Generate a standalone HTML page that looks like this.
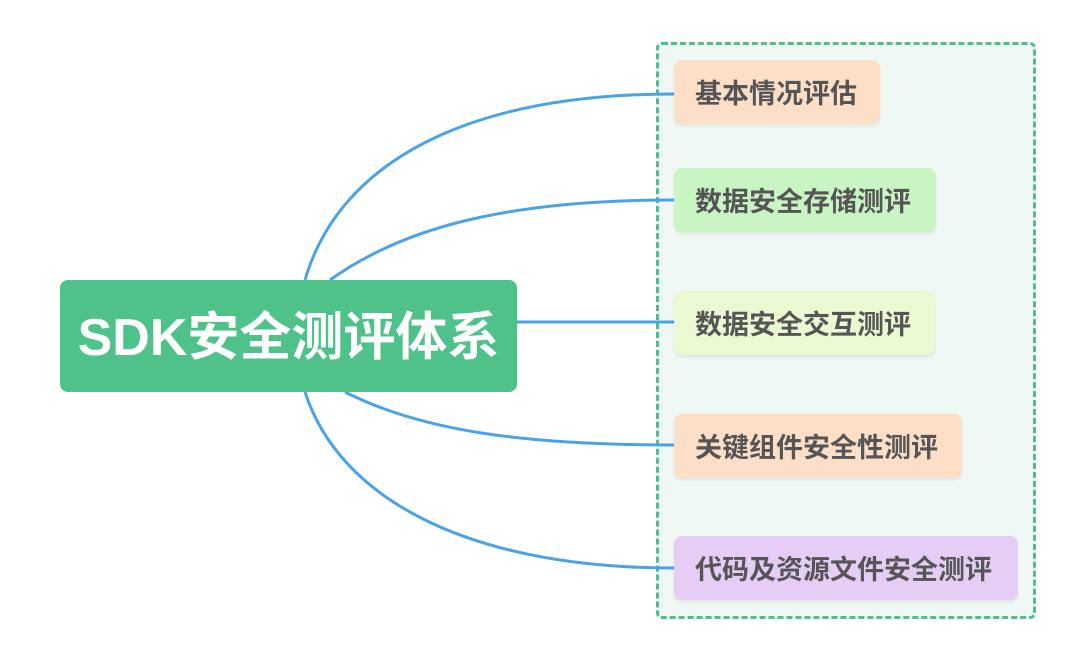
<!DOCTYPE html>
<html><head><meta charset="utf-8"><style>
body{margin:0;width:1080px;height:661px;background:#fff;position:relative;overflow:hidden;font-family:"Liberation Sans","Noto Sans CJK SC",sans-serif}
.c{position:absolute;left:656px;top:42px;width:374px;height:571px;border:3px dashed #4fbf8a;border-radius:6px;background:#eff8f4}
.n{position:absolute;left:674px;height:64px;border-radius:8px;color:#555;font-weight:bold;font-size:27px;line-height:68px;padding-left:21px;box-sizing:border-box;box-shadow:0 2px 3px rgba(0,0,0,.08);white-space:nowrap}
.m{position:absolute;left:60px;top:280px;width:457px;height:112px;background:#4fc28a;border-radius:8px;color:#fff;font-weight:bold;font-size:52px;line-height:116px;text-align:center;white-space:nowrap}
svg{position:absolute;left:0;top:0}
</style></head><body>
<div class="c"></div>
<svg width="1080" height="661"><g fill="none" stroke="#4aa3e6" stroke-width="3">
<path d="M305 280 C340 160 470 94 674 94"/>
<path d="M330 280 C400 230 500 200 674 200"/>
<path d="M517 322 L674 322"/>
<path d="M345 392 C420 430 520 445 674 445"/>
<path d="M305 392 C340 500 470 568 674 568"/>
</g></svg>
<div class="m">SDK安全测评体系</div>
<div class="n" style="top:60px;width:206px;background:#fddfc8">基本情况评估</div>
<div class="n" style="top:168px;width:262px;background:#c9f5c4">数据安全存储测评</div>
<div class="n" style="top:291px;width:261px;background:#e9fad3">数据安全交互测评</div>
<div class="n" style="top:414px;width:288px;background:#fddfc8">关键组件安全性测评</div>
<div class="n" style="top:536px;width:344px;background:#e6cdf6">代码及资源文件安全测评</div>
</body></html>
